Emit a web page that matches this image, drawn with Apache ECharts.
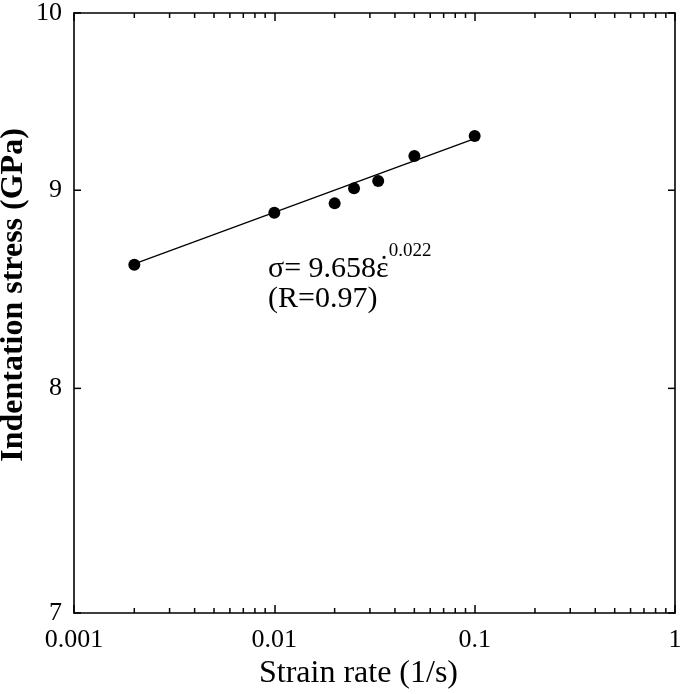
<!DOCTYPE html>
<html>
<head>
<meta charset="utf-8">
<script src="https://cdn.jsdelivr.net/npm/echarts@6/dist/echarts.min.js"></script>
<style>
html,body{margin:0;padding:0;background:#fff;}
#chart{width:685px;height:694px;}
</style>
</head>
<body>
<div id="chart"></div>
<script>
// ---- data ----
const strainRate = [0.002, 0.01, 0.02, 0.025, 0.033, 0.05, 0.1];
const stress     = [8.61, 8.88, 8.93, 9.01, 9.05, 9.185, 9.295];
const fitX = [0.002, 0.1];
const fitY = [8.615, 9.28];
const xTickLabels = ['0.001', '0.01', '0.1', '1'];
const yTicks = [7, 8, 9, 10];
const yTickLabels = ['7', '8', '9', '10'];
const xMinorTicks = [0.002,0.003,0.004,0.005,0.006,0.007,0.008,0.009,
                     0.02,0.03,0.04,0.05,0.06,0.07,0.08,0.09,
                     0.2,0.3,0.4,0.5,0.6,0.7,0.8,0.9];
const xMin = 0.001, xMax = 1, yMin = 7, yMax = 10;

const FONT = 'Liberation Serif, Times New Roman, serif';
const chart = echarts.init(document.getElementById('chart'), null, {renderer:'canvas'});

const axisLine = {show:true, lineStyle:{color:'#000', width:1.6}};

const option = {
  animation:false,
  backgroundColor:'#fff',
  grid:{left:74, right:10, top:13, bottom:81, containLabel:false, outerBoundsMode:'none'},
  xAxis:[
    {type:'log', logBase:10, min:xMin, max:xMax, position:'bottom',
     axisLine:axisLine,
     axisTick:{show:true, inside:true, length:8, lineStyle:{color:'#000', width:1.5}},
     axisLabel:{show:true, color:'#000', fontFamily:FONT, fontSize:26, margin:14,
       formatter:function(v, i){ return xTickLabels[i] !== undefined ? xTickLabels[i] : ''; }},
     splitLine:{show:false},
     name:'Strain rate (1/s)', nameLocation:'middle', nameGap:40,
     nameTextStyle:{color:'#000', fontFamily:FONT, fontSize:32, padding:[0,32,0,0]}
    },
    {type:'log', logBase:10, min:xMin, max:xMax, position:'top',
     axisLine:axisLine,
     axisTick:{show:true, inside:true, length:8, lineStyle:{color:'#000', width:1.5}},
     axisLabel:{show:false}, splitLine:{show:false}
    }
  ],
  yAxis:[
    {type:'log', logBase:10, min:yMin, max:yMax, position:'left',
     axisLine:axisLine, axisTick:{show:false}, axisLabel:{show:false}, splitLine:{show:false},
     name:'Indentation stress (GPa)', nameLocation:'middle', nameGap:44,
     nameTextStyle:{color:'#000', fontFamily:FONT, fontSize:32, fontWeight:'bold', padding:[0,0,0,36]}
    },
    {type:'log', logBase:10, min:yMin, max:yMax, position:'right',
     axisLine:axisLine, axisTick:{show:false}, axisLabel:{show:false}, splitLine:{show:false}
    }
  ],
  series:[
    {type:'line', xAxisIndex:0, yAxisIndex:0, data:fitX.map((x,i)=>[x, fitY[i]]),
     showSymbol:false, symbol:'none', lineStyle:{color:'#000', width:1.3, opacity:1}, silent:true, z:2},
    {type:'scatter', xAxisIndex:0, yAxisIndex:0, data:strainRate.map((x,i)=>[x, stress[i]]),
     symbol:'circle', symbolSize:12, itemStyle:{color:'#000', opacity:1}, z:3},
    // minor ticks bottom
    {type:'scatter', xAxisIndex:0, yAxisIndex:0, clip:false, silent:true,
     data:xMinorTicks.map(v=>[v, yMin]), symbol:'rect', symbolSize:[1.5,5], symbolOffset:[0,-2.5],
     itemStyle:{color:'#000', opacity:1}},
    // minor ticks top
    {type:'scatter', xAxisIndex:0, yAxisIndex:0, clip:false, silent:true,
     data:xMinorTicks.map(v=>[v, yMax]), symbol:'rect', symbolSize:[1.5,5], symbolOffset:[0,2.5],
     itemStyle:{color:'#000', opacity:1}},
    // y ticks + labels left
    {type:'scatter', xAxisIndex:0, yAxisIndex:0, clip:false, silent:true,
     data:yTicks.map((v,i)=>({value:[xMin, v], name:yTickLabels[i]})),
     symbol:'rect', symbolSize:[7,1.5], symbolOffset:[3.5,0], itemStyle:{color:'#000', opacity:1},
     label:{show:true, position:'left', distance:12, formatter:'{b}', color:'#000', fontFamily:FONT, fontSize:26}},
    // y ticks right
    {type:'scatter', xAxisIndex:0, yAxisIndex:0, clip:false, silent:true,
     data:yTicks.map(v=>[xMax, v]),
     symbol:'rect', symbolSize:[7,1.5], symbolOffset:[-3.5,0], itemStyle:{color:'#000', opacity:1}}
  ],
  graphic:[
    {type:'text', left:268, top:242, z:10,
     style:{
       text:'{a|σ= 9.658ε}{s|0.022}\n{b|(R=0.97)}',
       fill:'#000', font:'30px ' + FONT,
       rich:{
         a:{fontFamily:FONT, fontSize:30, lineHeight:42, verticalAlign:'bottom', fill:'#000'},
         s:{fontFamily:FONT, fontSize:19, lineHeight:17, verticalAlign:'top', fill:'#000'},
         b:{fontFamily:FONT, fontSize:30, lineHeight:30, fill:'#000'}
       }
     }},
    {type:'text', left:379, top:253, z:10,
     style:{text:'˙', fill:'#000', font:'30px ' + FONT}}
  ]
};
chart.setOption(option);
</script>
</body>
</html>
